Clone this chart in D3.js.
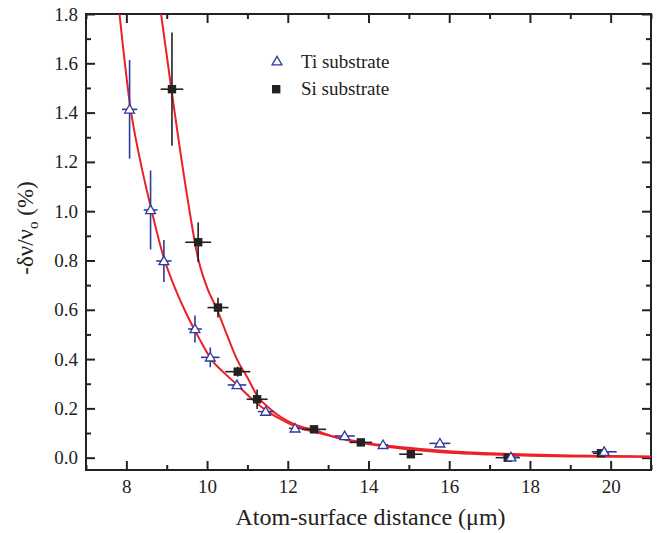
<!DOCTYPE html>
<html>
<head>
<meta charset="utf-8">
<script src="https://cdn.jsdelivr.net/npm/d3@7"></script>
</head>
<body style="margin:0">
<svg id="chart" width="659" height="533" font-family="Liberation Serif, Tinos, FreeSerif, serif"></svg>
<script>
// Ti substrate data
const tiX    = [8.08, 8.60, 8.93, 9.70, 10.08, 10.74, 11.45, 12.18, 13.41, 14.36, 15.77, 17.53, 19.84];
const tiY    = [1.413, 1.005, 0.798, 0.522, 0.407, 0.295, 0.187, 0.119, 0.088, 0.052, 0.058, 0.002, 0.024];
const tiXErr = [0.19, 0.17, 0.19, 0.17, 0.23, 0.23, 0.19, 0.15, 0.25, 0.12, 0.26, 0.2, 0.31];
const tiYErr = [0.2, 0.16, 0.085, 0.055, 0.04, 0.015, 0.012, 0.005, 0, 0, 0, 0, 0];

// Si substrate data
const siX    = [9.13, 9.78, 10.27, 10.76, 11.24, 12.65, 13.81, 15.05, 17.45, 19.76];
const siY    = [1.495, 0.874, 0.609, 0.349, 0.237, 0.115, 0.062, 0.014, 0.0, 0.018];
const siXErr = [0.28, 0.32, 0.26, 0.31, 0.26, 0.3, 0.28, 0.29, 0.3, 0.2];
const siYErr = [0.23, 0.08, 0.04, 0.02, 0.04, 0.01, 0, 0, 0, 0];

// fit curves
const tiFitX = [7.83, 8.1, 8.35, 8.6, 8.93, 9.2, 9.5, 9.8, 10.1, 10.45, 10.75, 11.1, 11.45, 11.8, 12.2, 12.65, 13.2, 13.8, 14.5, 15.3, 16, 17, 18, 19, 20, 21];
const tiFitY = [1.8, 1.42, 1.2, 1.02, 0.81, 0.69, 0.58, 0.485, 0.40, 0.34, 0.295, 0.24, 0.193, 0.158, 0.126, 0.105, 0.083, 0.064, 0.048, 0.035, 0.026, 0.018, 0.013, 0.009, 0.007, 0.005];
const siFitX = [8.86, 9.12, 9.45, 9.79, 10.0, 10.25, 10.5, 10.75, 11.0, 11.26, 11.55, 11.82, 12.2, 12.65, 13.2, 13.89, 14.5, 15.3, 16, 17, 18, 19, 20, 21];
const siFitY = [1.8, 1.49, 1.12, 0.80, 0.69, 0.60, 0.495, 0.396, 0.325, 0.247, 0.2, 0.166, 0.133, 0.112, 0.082, 0.058, 0.043, 0.029, 0.02, 0.013, 0.008, 0.005, 0.004, 0.003];

const xMajor = [8, 10, 12, 14, 16, 18, 20];
const xMinor = [7, 9, 11, 13, 15, 17, 19, 21];
const yMajor = [0, 0.2, 0.4, 0.6, 0.8, 1.0, 1.2, 1.4, 1.6, 1.8];
const yMinor = [0.1, 0.3, 0.5, 0.7, 0.9, 1.1, 1.3, 1.5, 1.7];

const legendLabels = ['Ti substrate', 'Si substrate'];

const mLeft = 86, mRight = 651, mTop = 14, mBottom = 470;
const blue = '#2e3a9c', dark = '#222', red = '#ec2027';

const svg = d3.select('#chart');

// every text gets the serif face both ways
function serifText(sel, size) {
    return sel.attr('font-family', 'Liberation Serif')
        .style('font-family', d => '"Liberation Serif"')
        .attr('font-size', size);
}

const x = d3.scaleLinear().domain([7, 21]).range([mLeft, mRight]);
const y = d3.scaleLinear().domain([-0.05, 1.8]).range([mBottom, mTop]);

svg.append('clipPath').attr('id', 'clip')
    .append('rect').attr('x', mLeft).attr('y', mTop)
    .attr('width', mRight - mLeft).attr('height', mBottom - mTop);

// axes, ticks inward
function axisGroup(axis, tx, ty, labels) {
    let g = svg.append('g').attr('transform', `translate(${tx},${ty})`).call(axis);
    g.attr('font-family', 'Liberation Serif').attr('font-size', 19);
    g.select('.domain').remove();
    g.selectAll('.tick line').attr('stroke', dark).attr('stroke-width', 2);
    if (!labels) g.selectAll('.tick text').remove();
    else serifText(g.selectAll('.tick text').attr('fill', dark), 19);
    return g;
}

axisGroup(d3.axisBottom(x).tickValues(xMajor).tickSize(-9).tickPadding(9.5).tickFormat(d3.format('d')), 0, mBottom, true);
axisGroup(d3.axisBottom(x).tickValues(xMinor).tickSize(-5).tickFormat(''), 0, mBottom, false);
axisGroup(d3.axisTop(x).tickValues(xMajor).tickSize(-9), 0, mTop, false);
axisGroup(d3.axisTop(x).tickValues(xMinor).tickSize(-5), 0, mTop, false);
axisGroup(d3.axisLeft(y).tickValues(yMajor).tickSize(-9).tickPadding(8).tickFormat(d3.format('.1f')), mLeft, 0, true);
axisGroup(d3.axisLeft(y).tickValues(yMinor).tickSize(-5).tickFormat(''), mLeft, 0, false);
axisGroup(d3.axisRight(y).tickValues(yMajor).tickSize(-9), mRight, 0, false);
axisGroup(d3.axisRight(y).tickValues(yMinor).tickSize(-5), mRight, 0, false);

svg.append('rect')
    .attr('x', mLeft).attr('y', mTop)
    .attr('width', mRight - mLeft).attr('height', mBottom - mTop)
    .attr('fill', 'none').attr('stroke', dark).attr('stroke-width', 2);

// fit curves
const line = d3.line().x(d => x(d[0])).y(d => y(d[1])).curve(d3.curveMonotoneX);
const curves = svg.append('g').attr('clip-path', 'url(#clip)');
curves.append('path').datum(d3.zip(tiFitX, tiFitY))
    .attr('d', line).attr('fill', 'none').attr('stroke', red).attr('stroke-width', 2);
curves.append('path').datum(d3.zip(siFitX, siFitY))
    .attr('d', line).attr('fill', 'none').attr('stroke', red).attr('stroke-width', 2);

// error bars
function errorBars(xs, ys, xe, ye, color) {
    let g = svg.append('g').attr('stroke', color).attr('stroke-width', 1.6);
    let pts = d3.range(xs.length);
    g.selectAll('.h').data(pts).enter().append('line')
        .attr('x1', i => x(xs[i] - xe[i])).attr('x2', i => x(xs[i] + xe[i]))
        .attr('y1', i => y(ys[i])).attr('y2', i => y(ys[i]));
    g.selectAll('.v').data(pts.filter(i => ye[i] > 0)).enter().append('line')
        .attr('x1', i => x(xs[i])).attr('x2', i => x(xs[i]))
        .attr('y1', i => y(ys[i] - ye[i])).attr('y2', i => y(ys[i] + ye[i]));
}
errorBars(siX, siY, siXErr, siYErr, dark);
errorBars(tiX, tiY, tiXErr, tiYErr, blue);

const tri = d3.symbol().type(d3.symbolTriangle).size(42);

svg.append('g').selectAll('rect').data(d3.range(siX.length)).enter().append('rect')
    .attr('x', i => x(siX[i]) - 4.2).attr('y', i => y(siY[i]) - 4.2)
    .attr('width', 8.4).attr('height', 8.4).attr('fill', dark);

svg.append('g').selectAll('path').data(d3.range(tiX.length)).enter().append('path')
    .attr('d', tri)
    .attr('transform', i => `translate(${x(tiX[i])},${y(tiY[i]) + 0.8})`)
    .attr('fill', '#fff').attr('stroke', blue).attr('stroke-width', 1.3);

// legend
svg.append('path').attr('d', tri).attr('transform', 'translate(277,62)')
    .attr('fill', '#fff').attr('stroke', blue).attr('stroke-width', 1.3);
svg.append('rect').attr('x', 272).attr('y', 85).attr('width', 8.4).attr('height', 8.4).attr('fill', dark);
serifText(svg.append('text').attr('x', 301).attr('y', 68).attr('fill', dark), 19).text(legendLabels[0]);
serifText(svg.append('text').attr('x', 301).attr('y', 95).attr('fill', dark), 19).text(legendLabels[1]);

// axis titles
serifText(svg.append('text').attr('x', (mLeft + mRight) / 2 + 2).attr('y', 525)
    .attr('text-anchor', 'middle').attr('fill', dark), 24)
    .text('Atom-surface distance (\u03bcm)');

const yt = serifText(svg.append('text').attr('transform', 'translate(33,228) rotate(-90)')
    .attr('text-anchor', 'middle').attr('fill', dark), 23);
yt.append('tspan').text('-\u03b4\u03bd/\u03bd');
yt.append('tspan').attr('font-size', 15).attr('dy', 5).text('o');
yt.append('tspan').attr('dy', -5).text(' (%)');
</script>
</body>
</html>
